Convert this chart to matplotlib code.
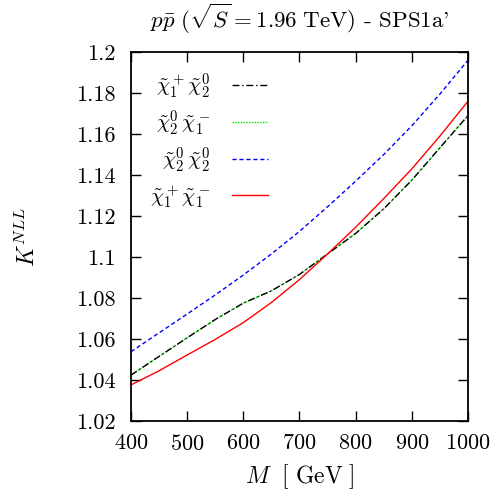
import numpy as np
import matplotlib
matplotlib.use("Agg")
import matplotlib.pyplot as plt
from matplotlib.ticker import FuncFormatter, MultipleLocator

plt.rcParams['font.family'] = ['cmr10', 'DejaVu Serif']
plt.rcParams['mathtext.fontset'] = 'cm'
plt.rcParams['axes.formatter.use_mathtext'] = True

# masses and K factors
M = [400, 450, 500, 550, 600, 650, 700, 750, 800, 850, 900, 950, 1000]
K_c1p_n2 = [1.0424, 1.0515, 1.0606, 1.0695, 1.0775, 1.0835, 1.0915, 1.1015, 1.1115, 1.1235, 1.1375, 1.1533, 1.169]
K_n2_c1m = [1.0424, 1.0515, 1.0606, 1.0695, 1.0775, 1.0835, 1.0915, 1.1015, 1.1115, 1.1235, 1.1375, 1.1533, 1.169]
K_n2_n2 = [1.0538, 1.0630, 1.0722, 1.0815, 1.0912, 1.1015, 1.1125, 1.1245, 1.1370, 1.1500, 1.1640, 1.1795, 1.196]
K_c1p_c1m = [1.0376, 1.0445, 1.0522, 1.0598, 1.068, 1.0778, 1.089, 1.1015, 1.1145, 1.1285, 1.143, 1.159, 1.176]

labels = [r'$\tilde{\chi}_1^+\tilde{\chi}_2^0$',
          r'$\tilde{\chi}_2^0\,\tilde{\chi}_1^-$',
          r'$\tilde{\chi}_2^0\,\tilde{\chi}_2^0$',
          r'$\tilde{\chi}_1^+\tilde{\chi}_1^-$']

fig = plt.figure(figsize=(5.03, 4.97), dpi=100)
ax = fig.add_axes([131/503, 76/497, 337/503, 369/497])

l2, = ax.plot(M, K_n2_c1m, color='#00dd00', ls=(0, (1, 1)), lw=1.0, label=labels[1])
l1, = ax.plot(M, K_c1p_n2, color='black', ls=(0, (5, 2, 1, 2)), lw=1.0, label=labels[0])
l3, = ax.plot(M, K_n2_n2, color='blue', ls=(0, (3, 2)), lw=1.0, label=labels[2])
l4, = ax.plot(M, K_c1p_c1m, color='red', ls='-', lw=1.0, label=labels[3])

ax.set_xlim(400, 1000)
ax.set_ylim(1.02, 1.2)
ax.xaxis.set_major_locator(MultipleLocator(100))
ax.yaxis.set_major_locator(MultipleLocator(0.02))
ax.yaxis.set_major_formatter(FuncFormatter(lambda v, p: '%g' % round(v, 4)))
ax.tick_params(direction='in', length=7, width=1, top=True, right=True,
               labelsize=16)
ax.tick_params(axis='x', pad=9)
ax.tick_params(axis='y', pad=11)
for s in ax.spines.values():
    s.set_linewidth(1.3)

ax.set_xlabel(r'$M\ \ [\ \mathrm{GeV}\ ]$', fontsize=17, labelpad=6)
ax.set_ylabel(r'$K^{NLL}$', fontsize=17)
ax.yaxis.set_label_coords(-0.27, 0.5)
fig.text(299.5/503, 1 - 19/497, r"$p\bar{p}\ (\sqrt{S} = 1.96\ \mathrm{TeV})$ - SPS1a'",
         fontsize=16.5, ha='center', va='center')

ax.legend(handles=[l1, l2, l3, l4], loc='upper left', frameon=False,
          markerfirst=False, fontsize=15, handlelength=1.73, handletextpad=1.06,
          labelspacing=0.36, borderaxespad=0.3, bbox_to_anchor=(0.013, 0.986))

fig.savefig('out.png', dpi=100)
